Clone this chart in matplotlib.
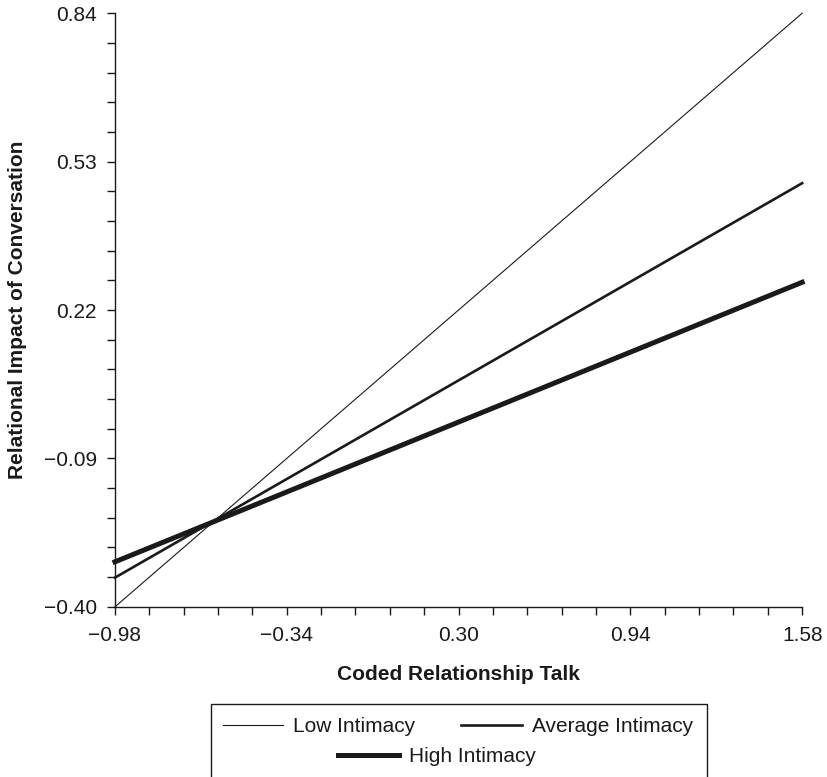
import matplotlib
matplotlib.use('Agg')
import matplotlib.pyplot as plt
import numpy as np
from matplotlib.patches import Rectangle

plt.rcParams['font.family'] = ['Liberation Sans', 'DejaVu Sans']

# simple slopes at -1 SD and +1 SD of relationship talk
x_vals = [-0.98, 1.58]
low = [-0.40, 0.84]
average = [-0.339, 0.485]
high = [-0.306, 0.278]

x_ticks = [-0.98, -0.34, 0.30, 0.94, 1.58]
y_ticks = [-0.40, -0.09, 0.22, 0.53, 0.84]
x_ticklabels = ['\u22120.98', '\u22120.34', '0.30', '0.94', '1.58']
y_ticklabels = ['\u22120.40', '\u22120.09', '0.22', '0.53', '0.84']


def minors(major, n=5):
    # n sub-intervals between each pair of major ticks
    out = []
    for a, b in zip(major[:-1], major[1:]):
        out.extend(np.linspace(a, b, n + 1)[1:-1])
    return out


fig = plt.figure(figsize=(8.27, 7.77), dpi=100)
ax = fig.add_axes([0.139, 0.219, 0.831, 0.764])

l1, = ax.plot(x_vals, low, color='#1a1a1a', lw=0.8, label='Low Intimacy')
l2, = ax.plot(x_vals, average, color='#1a1a1a', lw=1.9, label='Average Intimacy')
l3, = ax.plot(x_vals, high, color='#1a1a1a', lw=3.6, label='High Intimacy')

ax.set_xlim(x_vals[0], x_vals[1])
ax.set_ylim(y_ticks[0], y_ticks[-1])
ax.set_xticks(x_ticks)
ax.set_yticks(y_ticks)
ax.set_xticklabels(x_ticklabels)
ax.set_yticklabels(y_ticklabels)
ax.set_xticks(minors(x_ticks), minor=True)
ax.set_yticks(minors(y_ticks), minor=True)
ax.tick_params(which='both', direction='out', width=1, color='#1a1a1a',
               labelsize=15, labelcolor='#1a1a1a', length=6)
ax.tick_params(axis='x', which='major', pad=8)
ax.tick_params(axis='y', which='major', pad=7)
ax.spines['top'].set_visible(False)
ax.spines['right'].set_visible(False)
for s in ['left', 'bottom']:
    ax.spines[s].set_linewidth(1)
    ax.spines[s].set_color('#1a1a1a')
for ln in (l1, l2, l3):
    ln.set_clip_on(False)

ax.set_xlabel('Coded Relationship Talk', fontsize=15, fontweight='bold',
              color='#1a1a1a', labelpad=14)
ax.set_ylabel('Relational Impact of Conversation', fontsize=15, fontweight='bold',
              color='#1a1a1a', labelpad=12)

# legend box, cut off at the bottom like the original
fig.patches.append(Rectangle((211 / 827, -0.05), (707 - 211) / 827, (777 - 704) / 777 + 0.05,
                             transform=fig.transFigure, fill=False, edgecolor='#1a1a1a', lw=1))
leg_kw = dict(loc='center', frameon=False, fontsize=15, handlelength=2.9,
              handletextpad=0.5, labelcolor='#1a1a1a')
fig.legend(handles=[l1, l2], bbox_to_anchor=(458 / 827, 1 - 727 / 777),
           ncol=2, columnspacing=2.2, **leg_kw)
fig.legend(handles=[l3], bbox_to_anchor=(437 / 827, 1 - 757 / 777), **leg_kw)

fig.savefig('out.png', dpi=100)
